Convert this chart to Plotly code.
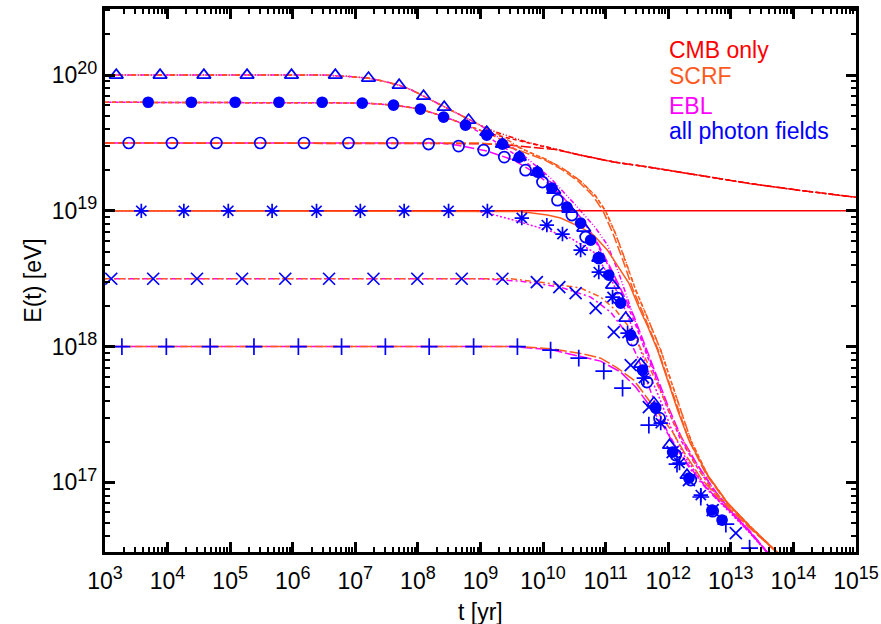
import numpy as np
import plotly.graph_objects as go

RED = "#ff0000"
ORANGE = "#ff5a1e"
MAGENTA = "#ff00ff"
BLUE = "#0000ff"

# ---------------- CMB only (log10 t [yr], log10 E [eV]) ----------------
CMB_1E20_LOGT = [3.0, 6.5, 6.9, 7.2, 7.45, 7.7, 7.9, 8.09, 8.25, 8.42, 8.6, 8.81, 9.0, 9.25, 9.5, 9.75, 10.07, 10.6, 11.13, 11.72, 12.52, 13.32, 14.12, 15.0]
CMB_1E20_LOGE = [20.0, 20.0, 19.99, 19.978, 19.955, 19.926, 19.89, 19.845, 19.805, 19.764, 19.72, 19.669, 19.63, 19.58, 19.54, 19.505, 19.47, 19.41, 19.36, 19.32, 19.26, 19.20, 19.15, 19.10]
CMB_6E19_LOGT = [3.0, 6.8, 7.11, 7.61, 8.04, 8.41, 8.76, 9.1, 9.5, 9.75, 10.07, 10.6, 11.13, 11.72, 12.52, 13.32, 14.12, 15.0]
CMB_6E19_LOGE = [19.80, 19.80, 19.795, 19.78, 19.75, 19.695, 19.635, 19.575, 19.53, 19.50, 19.467, 19.41, 19.36, 19.32, 19.26, 19.20, 19.15, 19.10]
CMB_3E19_LOGT = [3.0, 8.5, 9.0, 9.4, 9.8, 10.2, 10.6, 11.13, 11.72, 12.52, 13.32, 14.12, 15.0]
CMB_3E19_LOGE = [19.5, 19.5, 19.495, 19.487, 19.472, 19.452, 19.41, 19.36, 19.32, 19.26, 19.20, 19.15, 19.10]
CMB_1E19_LOGT = [3.0, 15.0]
CMB_1E19_LOGE = [19.0, 19.0]

# ---------------- SCRF ----------------
SCRF_1E20_LOGT = [3.0, 6.5, 6.9, 7.2, 7.45, 7.7, 7.9, 8.09, 8.25, 8.42, 8.6, 8.81, 9.0, 9.25, 9.45, 9.69, 10.07, 10.33, 10.6, 10.84, 11.0, 11.16, 11.32, 11.48, 11.67, 11.88, 12.04, 12.2, 12.36, 12.63, 12.95, 13.32, 13.75, 14.0]
SCRF_1E20_LOGE = [20.0, 20.0, 19.99, 19.978, 19.955, 19.926, 19.89, 19.845, 19.805, 19.764, 19.72, 19.669, 19.63, 19.575, 19.52, 19.45, 19.374, 19.308, 19.219, 19.109, 18.998, 18.829, 18.63, 18.416, 18.21, 17.974, 17.753, 17.532, 17.311, 17.053, 16.847, 16.67, 16.479, 16.37]
SCRF_6E19_LOGT = [3.0, 6.8, 7.11, 7.61, 8.04, 8.41, 8.76, 9.1, 9.4, 9.69, 10.07, 10.33, 10.6, 10.84, 11.0, 11.16, 11.32, 11.48, 11.67, 11.88, 12.04, 12.2, 12.36, 12.63, 12.95, 13.32, 13.75, 14.0]
SCRF_6E19_LOGE = [19.8, 19.8, 19.795, 19.78, 19.75, 19.695, 19.635, 19.575, 19.51, 19.45, 19.374, 19.308, 19.219, 19.109, 18.998, 18.829, 18.63, 18.416, 18.21, 17.974, 17.753, 17.532, 17.311, 17.053, 16.847, 16.67, 16.479, 16.37]
SCRF_3E19_LOGT = [3.0, 9.0, 9.35, 9.65, 10.03, 10.29, 10.56, 10.8, 10.96, 11.12, 11.28, 11.44, 11.63, 11.84, 12.0, 12.16, 12.33, 12.61, 12.94, 13.31, 13.75, 14.0]
SCRF_3E19_LOGE = [19.5, 19.5, 19.485, 19.44, 19.374, 19.308, 19.219, 19.109, 18.998, 18.829, 18.63, 18.416, 18.21, 17.974, 17.753, 17.532, 17.311, 17.053, 16.847, 16.67, 16.479, 16.37]
SCRF_1E19_LOGT = [3.0, 9.4, 9.64, 10.07, 10.28, 10.6, 10.81, 11.03, 11.21, 11.37, 11.53, 11.67, 11.83, 11.99, 12.15, 12.33, 12.63, 12.95, 13.32, 13.75, 14.0]
SCRF_1E19_LOGE = [19.0, 19.0, 18.995, 18.969, 18.947, 18.88, 18.82, 18.71, 18.586, 18.468, 18.29, 18.15, 17.974, 17.753, 17.532, 17.311, 17.053, 16.847, 16.67, 16.479, 16.37]
SCRF_3E18_LOGT = [3.0, 9.48, 10.07, 10.6, 10.92, 11.16, 11.35, 11.51, 11.67, 11.83, 11.96, 12.07, 12.23, 12.44, 12.68, 12.95, 13.32, 13.75, 14.0]
SCRF_3E18_LOGE = [18.5, 18.5, 18.468, 18.431, 18.365, 18.269, 18.158, 18.033, 17.878, 17.716, 17.584, 17.458, 17.311, 17.127, 16.958, 16.832, 16.663, 16.479, 16.37]
SCRF_1E18_LOGT = [3.0, 9.64, 10.12, 10.6, 10.92, 11.19, 11.45, 11.72, 11.93, 12.07, 12.28, 12.52, 12.76, 13.0, 13.32, 13.75, 14.0]
SCRF_1E18_LOGE = [18.0, 18.0, 17.985, 17.95, 17.915, 17.842, 17.753, 17.591, 17.458, 17.37, 17.201, 17.031, 16.906, 16.796, 16.656, 16.479, 16.37]

# ---------------- EBL ----------------
EBL_1E20_LOGT = [2.93, 6.5, 6.9, 7.2, 7.45, 7.7, 7.9, 8.09, 8.25, 8.42, 8.6, 8.81, 9.0, 9.35, 9.72, 10.12, 10.52, 10.84, 11.03, 11.21, 11.4, 11.56, 11.72, 11.88, 12.07, 12.28, 12.52, 12.76, 13.0, 13.29, 13.59, 13.9]
EBL_1E20_LOGE = [20.0, 20.0, 19.99, 19.978, 19.955, 19.926, 19.89, 19.845, 19.805, 19.764, 19.72, 19.669, 19.63, 19.521, 19.396, 19.241, 19.042, 18.873, 18.748, 18.541, 18.291, 18.07, 17.886, 17.68, 17.458, 17.26, 17.09, 16.928, 16.796, 16.648, 16.479, 16.33]
EBL_6E19_LOGT = [2.93, 6.8, 7.11, 7.61, 8.04, 8.41, 8.76, 9.1, 9.35, 9.69, 10.12, 10.39, 10.65, 10.87, 11.08, 11.27, 11.45, 11.64, 11.83, 12.01, 12.2, 12.44, 12.71, 13.0, 13.29, 13.59, 13.9]
EBL_6E19_LOGE = [19.8, 19.8, 19.795, 19.78, 19.75, 19.695, 19.635, 19.551, 19.477, 19.374, 19.212, 19.064, 18.917, 18.748, 18.563, 18.379, 18.195, 17.96, 17.731, 17.518, 17.311, 17.127, 16.943, 16.781, 16.641, 16.479, 16.33]
EBL_3E19_LOGT = [2.93, 8.36, 8.63, 9.11, 9.53, 9.85, 10.12, 10.36, 10.65, 10.87, 11.08, 11.27, 11.45, 11.64, 11.83, 12.01, 12.2, 12.44, 12.71, 13.0, 13.29, 13.59, 13.9]
EBL_3E19_LOGE = [19.5, 19.5, 19.484, 19.44, 19.374, 19.285, 19.19, 19.079, 18.925, 18.762, 18.578, 18.401, 18.225, 17.996, 17.768, 17.547, 17.341, 17.149, 16.958, 16.788, 16.641, 16.479, 16.33]
EBL_1E19_LOGT = [2.93, 8.9, 9.11, 9.53, 10.07, 10.44, 10.81, 11.08, 11.35, 11.53, 11.72, 11.88, 12.04, 12.25, 12.52, 12.76, 13.0, 13.29, 13.59, 13.9]
EBL_1E19_LOGE = [19.0, 19.0, 18.984, 18.932, 18.858, 18.799, 18.696, 18.505, 18.232, 18.011, 17.775, 17.598, 17.407, 17.201, 17.017, 16.884, 16.773, 16.634, 16.479, 16.33]
EBL_3E18_LOGT = [2.93, 9.0, 9.64, 10.28, 10.76, 11.08, 11.32, 11.51, 11.67, 11.83, 11.99, 12.2, 12.44, 12.71, 13.0, 13.29, 13.59, 13.9]
EBL_3E18_LOGE = [18.5, 18.5, 18.482, 18.438, 18.365, 18.254, 18.107, 17.923, 17.731, 17.532, 17.37, 17.201, 17.039, 16.906, 16.781, 16.634, 16.479, 16.33]
EBL_1E18_LOGT = [2.93, 9.5, 10.12, 10.6, 10.92, 11.24, 11.48, 11.72, 11.93, 12.12, 12.36, 12.6, 12.84, 13.08, 13.32, 13.59, 13.9]
EBL_1E18_LOGE = [18.0, 18.0, 17.978, 17.93, 17.893, 17.812, 17.702, 17.554, 17.407, 17.26, 17.105, 16.965, 16.855, 16.751, 16.634, 16.479, 16.33]

# ---------------- all photon fields (markers) ----------------
TRI_LOGT = [3.18, 3.88, 4.58, 5.27, 5.98, 6.68, 7.21, 7.70, 8.09, 8.42, 8.81, 9.10, 9.35, 9.62, 9.91, 10.17, 10.41, 10.65, 10.89, 11.11, 11.32, 11.56, 11.77, 12.02, 12.30]
TRI_LOGE = [20.0, 20.0, 20.0, 20.0, 20.0, 20.0, 19.978, 19.926, 19.845, 19.764, 19.669, 19.58, 19.492, 19.396, 19.285, 19.153, 19.013, 18.873, 18.652, 18.453, 18.21, 17.871, 17.584, 17.274, 17.053]
CIRC_LOGT = [3.69, 4.38, 5.08, 5.78, 6.47, 7.11, 7.61, 8.04, 8.41, 8.76, 9.10, 9.35, 9.62, 9.91, 10.14, 10.38, 10.60, 10.76, 10.89, 11.05, 11.24, 11.40, 11.59, 11.80, 12.07, 12.33, 12.70, 12.86]
CIRC_LOGE = [19.8, 19.8, 19.8, 19.8, 19.8, 19.794, 19.779, 19.75, 19.691, 19.632, 19.558, 19.492, 19.396, 19.285, 19.168, 19.028, 18.91, 18.785, 18.652, 18.527, 18.32, 18.085, 17.827, 17.547, 17.223, 17.031, 16.796, 16.722]
OCIRC_LOGT = [3.38, 4.07, 4.78, 5.48, 6.18, 6.89, 7.59, 8.17, 8.65, 9.05, 9.38, 9.72, 9.99, 10.23, 10.46, 10.68, 10.89, 11.19, 11.43, 11.66, 11.86, 12.12, 12.36, 12.71]
OCIRC_LOGE = [19.5, 19.5, 19.5, 19.5, 19.5, 19.5, 19.5, 19.492, 19.477, 19.448, 19.396, 19.3, 19.212, 19.079, 18.969, 18.807, 18.652, 18.357, 18.048, 17.739, 17.473, 17.201, 17.017, 16.788]
AST_LOGT = [3.58, 4.26, 4.97, 5.67, 6.38, 7.08, 7.78, 8.49, 9.11, 9.66, 10.06, 10.31, 10.60, 10.89, 11.11, 11.35, 11.61, 11.88, 12.18, 12.52]
AST_LOGE = [19.0, 19.0, 19.0, 19.0, 19.0, 19.0, 19.0, 19.0, 19.0, 18.947, 18.895, 18.829, 18.711, 18.549, 18.365, 18.1, 17.768, 17.436, 17.142, 16.906]
X_LOGT = [3.10, 3.77, 4.47, 5.19, 5.88, 6.58, 7.29, 7.99, 8.70, 9.35, 9.90, 10.26, 10.52, 10.84, 11.13, 11.40, 11.69, 12.07, 12.33, 12.71, 13.08]
X_LOGE = [18.5, 18.5, 18.5, 18.5, 18.5, 18.5, 18.5, 18.5, 18.5, 18.5, 18.475, 18.438, 18.394, 18.284, 18.107, 17.864, 17.554, 17.223, 17.017, 16.796, 16.626]
PLUS_LOGT = [3.27, 3.98, 4.68, 5.38, 6.09, 6.78, 7.48, 8.18, 8.89, 9.59, 10.12, 10.57, 10.97, 11.27, 11.69, 12.14, 12.52, 12.92, 13.30]
PLUS_LOGE = [18.0, 18.0, 18.0, 18.0, 18.0, 18.0, 18.0, 18.0, 18.0, 18.0, 17.974, 17.915, 17.82, 17.694, 17.422, 17.134, 16.892, 16.692, 16.516]

X_TICK_EXP = list(range(3, 16))
Y_TICK_EXP = [17, 18, 19, 20]
LEGEND_LABELS = ["CMB only", "SCRF", "EBL", "all photon fields"]
LEGEND_COLORS = [RED, ORANGE, MAGENTA, BLUE]

# dash styles per initial energy
DASH = {
    "1e20": "5px,2px,1px,2px,1px,2px",
    "6e19": "4px,3px",
    "3e19": "10px,3px",
    "1e19": "solid",
    "3e18": "6px,3px,2px,3px",
    "1e18": "12px,3px",
}

fig = go.Figure()


def add_line(logt, loge, color, dash, width=1.5):
    fig.add_trace(go.Scatter(
        x=np.power(10.0, np.array(logt)), y=np.power(10.0, np.array(loge)),
        mode="lines", line=dict(color=color, dash=dash, width=width),
        showlegend=False, hoverinfo="skip"))


# EBL (bottom)
add_line(EBL_1E20_LOGT, EBL_1E20_LOGE, MAGENTA, DASH["1e20"])
add_line(EBL_6E19_LOGT, EBL_6E19_LOGE, MAGENTA, DASH["6e19"])
add_line(EBL_3E19_LOGT, EBL_3E19_LOGE, MAGENTA, DASH["3e19"])
add_line(EBL_1E19_LOGT, EBL_1E19_LOGE, MAGENTA, "2px,2px")
add_line(EBL_3E18_LOGT, EBL_3E18_LOGE, MAGENTA, DASH["3e18"])
add_line(EBL_1E18_LOGT, EBL_1E18_LOGE, MAGENTA, DASH["1e18"])
# CMB
add_line(CMB_1E20_LOGT, CMB_1E20_LOGE, RED, DASH["1e20"])
add_line(CMB_6E19_LOGT, CMB_6E19_LOGE, RED, DASH["6e19"])
add_line(CMB_3E19_LOGT, CMB_3E19_LOGE, RED, DASH["3e19"])
add_line(CMB_1E19_LOGT, CMB_1E19_LOGE, RED, DASH["1e19"])
# SCRF
add_line(SCRF_1E20_LOGT, SCRF_1E20_LOGE, ORANGE, DASH["1e20"])
add_line(SCRF_6E19_LOGT, SCRF_6E19_LOGE, ORANGE, DASH["6e19"])
add_line(SCRF_3E19_LOGT, SCRF_3E19_LOGE, ORANGE, DASH["3e19"])
add_line(SCRF_1E19_LOGT, SCRF_1E19_LOGE, ORANGE, DASH["1e19"])
add_line(SCRF_3E18_LOGT, SCRF_3E18_LOGE, ORANGE, DASH["3e18"])
add_line(SCRF_1E18_LOGT, SCRF_1E18_LOGE, ORANGE, DASH["1e18"])


def add_markers(logt, loge, symbol, size):
    fig.add_trace(go.Scatter(
        x=np.power(10.0, np.array(logt)), y=np.power(10.0, np.array(loge)),
        mode="markers",
        marker=dict(symbol=symbol, size=size, color=BLUE, line=dict(color=BLUE, width=1.7)),
        showlegend=False, hoverinfo="skip"))


add_markers(TRI_LOGT, TRI_LOGE, "triangle-up-open", 12)
add_markers(CIRC_LOGT, CIRC_LOGE, "circle", 10)
add_markers(OCIRC_LOGT, OCIRC_LOGE, "circle-open", 11)
add_markers(AST_LOGT, AST_LOGE, "asterisk-open", 12)
add_markers(X_LOGT, X_LOGE, "x-thin-open", 12)
add_markers(PLUS_LOGT, PLUS_LOGE, "cross-thin-open", 12)

FONT = "Liberation Sans, Arial, Helvetica, sans-serif"
FS = 23


def power_label(e):
    return "10<sup><span style='font-size:18px'>%d</span></sup>" % e


x_minor = [k * 10.0 ** n for n in range(3, 15) for k in range(2, 10)]
y_minor = [k * 10.0 ** n for n in range(16, 21) for k in range(2, 10)]

axis_common = dict(
    showgrid=False, zeroline=False, showline=True, linecolor="black", linewidth=3,
    mirror="allticks", ticks="inside", ticklen=10, tickwidth=2.5, tickcolor="black",
    tickfont=dict(family=FONT, size=FS, color="black"),
)

fig.update_xaxes(
    type="log", range=[3, 15],
    tickvals=[10.0 ** e for e in X_TICK_EXP],
    ticktext=[power_label(e) for e in X_TICK_EXP],
    ticklabelstandoff=6,
    minor=dict(tickvals=x_minor, ticks="inside", ticklen=5, tickwidth=2, tickcolor="black", showgrid=False),
    **axis_common)
fig.update_yaxes(
    type="log", range=[16.487, 20.487],
    tickvals=[10.0 ** e for e in Y_TICK_EXP],
    ticktext=[power_label(e) for e in Y_TICK_EXP],
    minor=dict(tickvals=y_minor, ticks="inside", ticklen=5, tickwidth=2, tickcolor="black", showgrid=False),
    title=dict(text="E(t) [eV]", font=dict(family=FONT, size=FS, color="black"), standoff=4),
    **axis_common)

# x-axis title placed as annotation for precise position
fig.add_annotation(x=0.5, y=-0.1105, xref="paper", yref="paper", text="t [yr]", showarrow=False,
                   xanchor="center", yanchor="middle",
                   font=dict(family=FONT, size=FS, color="black"))

legend_y = [0.925, 0.877, 0.821, 0.776]
for lab, col, yy in zip(LEGEND_LABELS, LEGEND_COLORS, legend_y):
    fig.add_annotation(x=0.748, y=yy, xref="paper", yref="paper", text=lab, showarrow=False,
                       xanchor="left", yanchor="middle",
                       font=dict(family=FONT, size=FS, color=col))

fig.update_layout(
    width=881, height=624,
    margin=dict(l=105, r=25, t=9, b=72, autoexpand=False),
    paper_bgcolor="white", plot_bgcolor="white",
    font=dict(family=FONT, size=FS, color="black"),
    showlegend=False,
)

fig.write_html("out.html")
